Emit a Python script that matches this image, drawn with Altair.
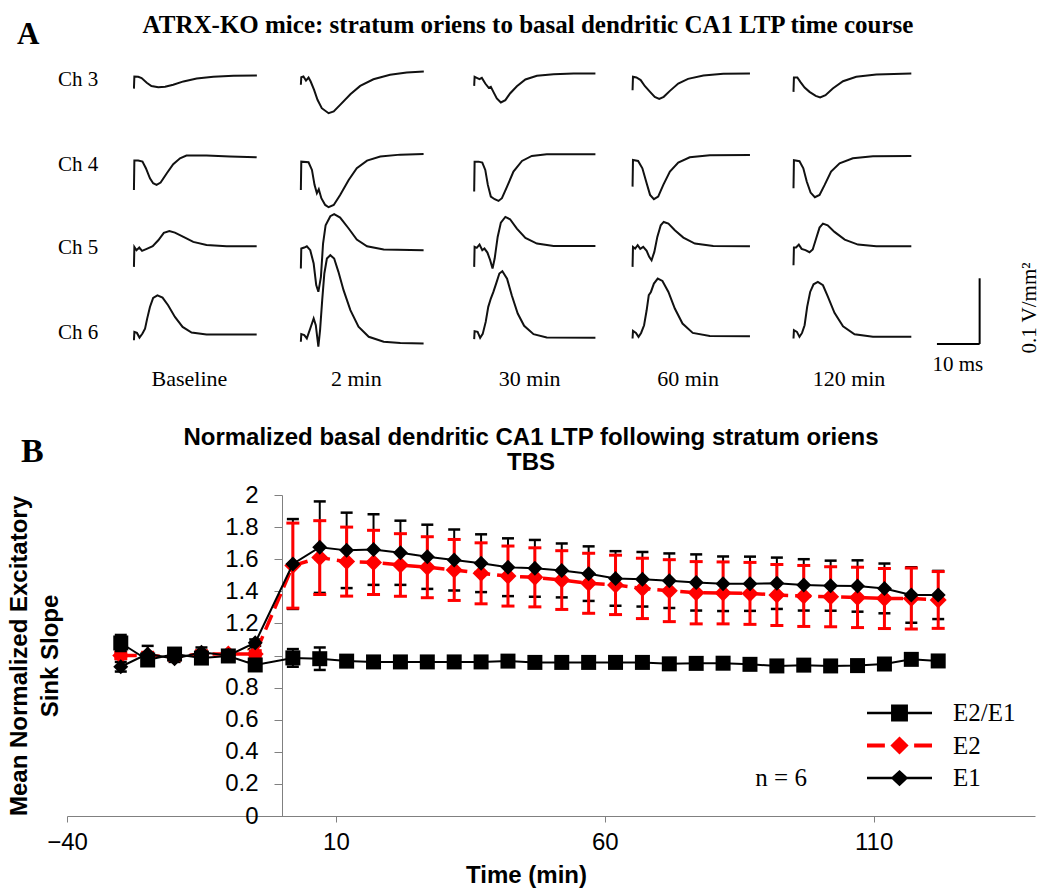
import altair as alt
import pandas as pd

SERIF = "Liberation Serif"
SANS = "Liberation Sans"

# ======================= Panel A: field-potential traces =======================
CHANNELS = ["Ch 3", "Ch 4", "Ch 5", "Ch 6"]
TIMEPOINTS = ["Baseline", "2 min", "30 min", "60 min", "120 min"]
TITLE_A = "ATRX-KO mice: stratum oriens to basal dendritic CA1 LTP time course"

# each trace: (time in ms, amplitude in mV/mm^2 relative to its resting level)
CH3_BASELINE = [(0, -20), (0.1, -1.5), (1.0, -2), (1.8, -4), (3.0, -11), (4.1, -16), (5.7, -18), (7.3, -17),
                (9.2, -14), (11.6, -9), (14.7, -4.5), (18.6, -2), (23.3, -0.5), (28.8, 0)]
CH3_2MIN = [(0, -20), (0.1, -8.6), (0.6, -7.6), (1.2, -13.7), (1.8, -9.1), (2.3, -15.2), (3.1, -27.9), (3.9, -43),
            (4.9, -55.8), (6.5, -63.4), (7.7, -60.8), (9.2, -50.7), (11.6, -34.5), (13.9, -21.8), (17.0, -11.7),
            (20.9, -5), (24.8, -1.5), (28.8, 0)]
CH3_30MIN = [(0, -18.8), (0.1, -5), (0.6, -6.6), (1.25, -8.6), (1.8, -6.6), (2.6, -15.2), (3.4, -21.8), (3.9, -20.3),
             (4.5, -27.9), (5.3, -38), (6.25, -44), (7.3, -40.6), (8.4, -30.4), (10.0, -19.3), (12.0, -9.1),
             (14.7, -3.5), (18.6, -1), (23.3, 0), (28.4, 0)]
CH3_60MIN = [(0, -25.4), (0.1, -5), (0.9, -6), (1.9, -10), (2.9, -19.3), (4.1, -27.9), (5.2, -35.5), (6.25, -38.5),
             (7.3, -35.5), (8.75, -26.4), (10.7, -15.2), (13.0, -8.1), (16.6, -3), (21.25, -0.5), (27.5, 0)]
CH3_120MIN = [(0, -27.9), (0.1, -6), (0.9, -6), (1.6, -12.7), (2.6, -21.3), (3.75, -27.9), (5.2, -34), (6.25, -36.5),
              (7.5, -33), (9.2, -22.8), (11.6, -11.7), (14.7, -5), (19.4, -1.5), (27.6, 0)]

CH4_BASELINE = [(0, -50.7), (0.1, -6), (1.0, -6), (2.0, -7.6), (2.8, -17.7), (3.75, -33), (4.5, -40.6), (5.3, -43),
                (6.25, -39.5), (7.7, -25.4), (9.2, -11.7), (10.8, -2.5), (12.3, 1.5), (17.0, 1.5), (22.5, 0),
                (28.75, -1)]
CH4_2MIN = [(0, -54.8), (0.1, -11.7), (1.8, -12.7), (2.6, -24.3), (3.2, -47), (3.75, -59.8), (4.2, -53.7),
            (4.8, -67.4), (5.7, -77.6), (6.5, -81.1), (7.7, -77.6), (9.2, -62.4), (11.2, -39.5), (13.1, -21.8),
            (15.5, -10.1), (18.6, -4), (23.3, -1), (28.75, 0)]
CH4_30MIN = [(0, -56.8), (0.1, -11.2), (1.0, -11.2), (1.9, -12.7), (2.6, -23.8), (3.2, -46.6), (3.9, -64.4),
             (4.8, -68.4), (5.7, -71), (6.5, -66.9), (7.7, -49.2), (9.2, -26.4), (11.2, -10.1), (13.5, -2.5),
             (17.0, 0), (28.4, 0)]
CH4_60MIN = [(0, -48.2), (0.1, -7.6), (1.3, -9.1), (2.3, -20.3), (3.3, -43), (4.1, -60.8), (5.0, -67.4), (6.0, -63.4),
             (7.2, -45.6), (8.75, -25.4), (10.7, -11.7), (13.4, -3.5), (18.1, -0.5), (27.5, 0)]
CH4_120MIN = [(0, -49.2), (0.1, -6.6), (1.4, -8.1), (2.3, -18.8), (3.1, -39), (4.0, -55.8), (5.0, -62.9),
              (6.1, -59.3), (7.3, -44.1), (8.8, -23.8), (10.8, -11.2), (13.9, -3.5), (18.6, -0.5), (27.6, 0)]

CH5_BASELINE = [(0, -31.4), (0.1, -1), (0.6, -6), (1.25, -2), (1.9, -7.1), (3.0, -4), (4.4, 0), (5.7, 9.1),
                (7.0, 20.3), (8.3, 23.3), (9.6, 20.8), (11.6, 14.2), (13.9, 6.6), (17.0, 2), (21.7, 0), (28.75, 0)]
CH5_2MIN = [(0, -27.9), (0.1, 2.5), (0.8, 4), (1.4, 6), (2.2, 0), (3.0, -20.3), (3.6, -53.2), (4.1, -63.4),
            (4.7, -40.6), (5.2, 10.1), (5.8, 38), (6.9, 51.7), (7.8, 54.8), (9.2, 49.7), (11.2, 33), (13.1, 16.2),
            (15.5, 6), (19.4, 1), (28.75, 0)]
CH5_30MIN = [(0, -31.9), (0.1, -1.5), (0.6, -3), (1.25, 2), (1.9, -6.6), (2.4, -4), (3.1, -10.1), (3.75, -21.8),
             (4.3, -34.5), (4.8, -19.3), (5.5, 13.7), (6.25, 35.5), (7.3, 44.1), (8.4, 40.6), (10.0, 26.4),
             (12.0, 12.2), (14.7, 3.5), (18.6, 0), (28.4, 0)]
CH5_60MIN = [(0, -31.4), (0.1, -1), (0.6, -3.5), (1.2, 1.5), (1.8, -4), (2.5, -1), (3.3, -7.1), (3.9, -16.2),
             (4.45, -21.3), (5.1, -8.6), (5.8, 14.2), (6.6, 31.9), (7.3, 37), (8.4, 34.5), (9.9, 24.3), (11.9, 13.2),
             (14.6, 4), (18.9, 0.5), (27.5, 0)]
CH5_120MIN = [(0, -28.9), (0.1, -2), (0.6, -2), (1.25, 2.5), (1.9, -4), (2.8, -6), (3.75, -9.1), (4.5, -5),
              (5.3, 11.7), (6.1, 28.4), (6.9, 34.5), (8.0, 31.9), (9.6, 21.8), (12.0, 10.1), (15.1, 2.5), (19.4, 0),
              (27.6, 0)]

CH6_BASELINE = [(0, -8.6), (0.1, 4), (0.7, 2.5), (1.3, -4.6), (2.0, 1.5), (2.6, 9.1), (3.1, 24.3), (3.75, 42.1),
                (4.5, 55.8), (5.5, 59.8), (6.7, 56.3), (8.0, 44.6), (9.6, 26.9), (11.4, 11.7), (13.5, 3), (17.0, 0),
                (28.75, 0)]
CH6_2MIN = [(0, 2.5), (0.1, 14.2), (0.8, 12.7), (1.4, 7.6), (2.2, 22.8), (3.0, 38), (3.5, 27.9), (4.1, -5),
            (4.5, 20.3), (5.0, 65.9), (5.5, 106.5), (6.1, 129.3), (6.9, 134.4), (7.8, 129.3), (8.8, 109),
            (10.0, 81.1), (11.6, 50.7), (13.5, 25.4), (15.9, 10.1), (19.4, 2.5), (23.3, 0.5), (28.75, 0)]
CH6_30MIN = [(0, -2), (0.1, 10.1), (0.8, 9.1), (1.4, 0), (2.0, 6), (2.7, 24.3), (3.3, 47.2), (3.9, 59.8), (4.5, 70),
             (5.2, 83.7), (5.9, 97.9), (6.6, 101.4), (7.7, 90.2), (8.8, 64.9), (10.2, 37), (11.7, 18.3), (13.9, 5.6),
             (17.0, 0.5), (28.4, 0)]
CH6_60MIN = [(0, -3.5), (0.1, 8.1), (0.8, 5), (1.4, -1), (2.0, 5), (2.7, 16.7), (3.3, 39.5), (3.8, 62.4),
             (4.3, 67.4), (5.0, 80.1), (5.9, 87.7), (7.0, 84.2), (8.4, 67.4), (9.9, 42.1), (11.7, 19.3), (14.1, 5),
             (18.1, 0.5), (27.5, 0)]
CH6_120MIN = [(0, -2.5), (0.1, 10.1), (0.8, 7.6), (1.4, 0), (2.0, 6), (2.6, 17.7), (3.2, 45.6), (3.9, 68.4),
              (4.7, 80.1), (5.7, 83.7), (6.9, 78.6), (8.0, 61.9), (9.6, 36.5), (11.6, 16.2), (14.3, 4), (18.6, 0),
              (27.6, 0)]

TRACES = {
    "Ch 3": [CH3_BASELINE, CH3_2MIN, CH3_30MIN, CH3_60MIN, CH3_120MIN],
    "Ch 4": [CH4_BASELINE, CH4_2MIN, CH4_30MIN, CH4_60MIN, CH4_120MIN],
    "Ch 5": [CH5_BASELINE, CH5_2MIN, CH5_30MIN, CH5_60MIN, CH5_120MIN],
    "Ch 6": [CH6_BASELINE, CH6_2MIN, CH6_30MIN, CH6_60MIN, CH6_120MIN],
}
# resting-level offsets of individual traces (mV/mm^2)
TRACE_SHIFT = {
    "Ch 3": [-3, 3, 0, 0, 0],
    "Ch 4": [-2.5, 1.5, 1, 0, -1.5],
    "Ch 5": [0, -6, 0.5, 0, 0],
    "Ch 6": [2.5, -11, -2.5, 0, -1],
}
SCALE_MS = 10      # horizontal scale bar, ms
SCALE_AMP = 100    # vertical scale bar, mV/mm^2 (0.1 V/mm^2)

# layout of the trace grid (ms horizontally, mV/mm^2 vertically)
COL_START = [29.5, 68.6, 109.2, 146.3, 184.0]
ROW_LEVEL = [488, 364, 225, 88]
CH_LABEL_Y = [478.2, 348.7, 222.4, 92.9]

rows = []
for ri, ch in enumerate(CHANNELS):
    for ci, tp in enumerate(TIMEPOINTS):
        for i, (t, v) in enumerate(TRACES[ch][ci]):
            rows.append({"trace": ch + "|" + tp, "i": i,
                         "X": COL_START[ci] + t,
                         "Y": ROW_LEVEL[ri] + TRACE_SHIFT[ch][ci] + v})
trace_df = pd.DataFrame(rows)

# panel A shares the drawing area with panel B but has its own scales
xa = alt.X("X:Q", scale=alt.Scale(domain=[13.82, 240.57], nice=False, zero=False), axis=None)
ya = alt.Y("Y:Q", scale=alt.Scale(domain=[-642.6, -153.8], nice=False, zero=False), axis=None)
xa2 = alt.X2("X2:Q")
ya2 = alt.Y2("Y2:Q")

traces = alt.Chart(trace_df).mark_line(color="#111111", strokeWidth=2).encode(
    x=xa, y=ya, detail="trace:N", order="i:Q")

ch_labels = alt.Chart(pd.DataFrame({"X": [11.7] * 4, "Y": CH_LABEL_Y, "label": CHANNELS})).mark_text(
    font=SERIF, fontSize=21, align="left", baseline="middle", color="black").encode(x=xa, y=ya, text="label:N")

col_labels = alt.Chart(pd.DataFrame({"X": [c + 13 for c in COL_START], "Y": [22.9] * 5,
                                     "label": TIMEPOINTS})).mark_text(
    font=SERIF, fontSize=22, align="center", baseline="middle", color="black").encode(x=xa, y=ya, text="label:N")

sb_x0, sb_y0 = 217.6, 76.2
scalebar = alt.Chart(pd.DataFrame({
    "X": [sb_x0, sb_x0 + SCALE_MS], "X2": [sb_x0 + SCALE_MS, sb_x0 + SCALE_MS],
    "Y": [sb_y0, sb_y0], "Y2": [sb_y0, sb_y0 + SCALE_AMP]})).mark_rule(color="black", strokeWidth=2).encode(
    x=xa, x2=xa2, y=ya, y2=ya2)

sb_ms = alt.Chart(pd.DataFrame({"X": [222.5], "Y": [44.2], "label": ["10 ms"]})).mark_text(
    font=SERIF, fontSize=21, align="center", baseline="middle", color="black").encode(x=xa, y=ya, text="label:N")
sb_amp = alt.Chart(pd.DataFrame({"X": [239.4], "Y": [131], "label": ["0.1 V/mm\u00b2"]})).mark_text(
    font=SERIF, fontSize=21, align="center", baseline="middle", angle=270, color="black").encode(
    x=xa, y=ya, text="label:N")

title_a = alt.Chart(pd.DataFrame({"X": [121.8], "Y": [549.7], "label": [TITLE_A]})).mark_text(
    font=SERIF, fontSize=25, fontWeight="bold", align="center", baseline="alphabetic", color="black").encode(
    x=xa, y=ya, text="label:N")
letter_a = alt.Chart(pd.DataFrame({"X": [2.1], "Y": [533], "label": ["A"]})).mark_text(
    font=SERIF, fontSize=31, fontWeight="bold", align="left", baseline="alphabetic", color="black").encode(
    x=xa, y=ya, text="label:N")

panel_a = alt.layer(traces, ch_labels, col_labels, scalebar, sb_ms, sb_amp, title_a, letter_a)

# ======================= Panel B: time course =======================
TIME_MIN = [-30, -25, -20, -15, -10, -5, 2, 7, 12, 17, 22, 27, 32, 37, 42, 47, 52, 57, 62, 67, 72, 77, 82, 87,
            92, 97, 102, 107, 112, 117, 122]
E1_MEAN = [0.93, 1.01, 0.98, 1.02, 1.00, 1.08, 1.57, 1.675, 1.655, 1.66, 1.64, 1.615, 1.595, 1.575, 1.55, 1.543,
           1.53, 1.51, 1.48, 1.475, 1.466, 1.455, 1.447, 1.447, 1.45, 1.44, 1.435, 1.433, 1.418, 1.377, 1.377]
E1_SEM = [0.03, 0.05, 0.02, 0.03, 0.02, 0.02, 0.28, 0.285, 0.235, 0.22, 0.20, 0.20, 0.19, 0.18, 0.18, 0.177,
          0.168, 0.17, 0.17, 0.17, 0.17, 0.175, 0.17, 0.169, 0.16, 0.16, 0.156, 0.16, 0.155, 0.173, 0.15]
E2_MEAN = [1.00, 1.00, 0.99, 1.01, 1.01, 1.01, 1.56, 1.61, 1.585, 1.58, 1.564, 1.55, 1.533, 1.512, 1.495, 1.487,
           1.47, 1.45, 1.44, 1.418, 1.404, 1.391, 1.39, 1.387, 1.377, 1.371, 1.366, 1.362, 1.355, 1.355, 1.346]
E2_SEM = [0.02, 0.02, 0.02, 0.02, 0.02, 0.02, 0.265, 0.23, 0.215, 0.2, 0.195, 0.19, 0.19, 0.19, 0.187, 0.184,
          0.183, 0.187, 0.185, 0.188, 0.193, 0.194, 0.193, 0.193, 0.19, 0.19, 0.187, 0.188, 0.187, 0.19, 0.177]
RATIO_MEAN = [1.078, 0.972, 1.009, 0.984, 0.997, 0.941, 0.985, 0.98, 0.965, 0.96, 0.96, 0.96, 0.96, 0.96, 0.965,
              0.957, 0.957, 0.957, 0.957, 0.957, 0.948, 0.951, 0.952, 0.945, 0.935, 0.94, 0.935, 0.937, 0.947,
              0.976, 0.966]
RATIO_SEM = [0.05, 0.03, 0.02, 0.02, 0.02, 0.02, 0.055, 0.07, 0.03, 0.02, 0.015, 0.015, 0.015, 0.015, 0.015,
             0.015, 0.015, 0.015, 0.015, 0.015, 0.015, 0.015, 0.015, 0.015, 0.015, 0.015, 0.015, 0.015, 0.015,
             0.015, 0.015]
SERIES = ["E2/E1", "E2", "E1"]
X_TICKS = [-40, 10, 60, 110]
Y_TICKS = [0, 0.2, 0.4, 0.6, 0.8, 1.0, 1.2, 1.4, 1.6, 1.8, 2.0]
N_LABEL = "n = 6"
TITLE_B = ["Normalized basal dendritic CA1 LTP following stratum oriens", "TBS"]

b_df = pd.DataFrame({
    "t": TIME_MIN * 3,
    "series": ["E2/E1"] * len(TIME_MIN) + ["E2"] * len(TIME_MIN) + ["E1"] * len(TIME_MIN),
    "mean": RATIO_MEAN + E2_MEAN + E1_MEAN,
    "err": RATIO_SEM + E2_SEM + E1_SEM,
})
b_df["lo"] = b_df["mean"] - b_df["err"]
b_df["hi"] = b_df["mean"] + b_df["err"]

AX_COLOR = "#808080"
ax_x = alt.Axis(orient="bottom", values=X_TICKS, title="Time (min)", titleFont=SANS, titleFontSize=24,
                titleFontWeight="bold", titleColor="black", titleX=459, titleY=59, titleBaseline="middle",
                labelFont=SANS, labelFontSize=24, labelColor="black", labelPadding=8, tickSize=6,
                tickColor=AX_COLOR, domainColor=AX_COLOR, grid=False, labelFlush=False, labelOverlap=False)
ax_y = alt.Axis(orient="left", values=Y_TICKS, format=".1~f", offset=-215,
                title=["Mean Normalized Excitatory", "Sink Slope"], titleFont=SANS, titleFontSize=24,
                titleFontWeight="bold", titleColor="black", titleLineHeight=31, titleX=-251, titleY=160.5,
                titleAngle=270, titleAlign="center", titleBaseline="bottom", labelFont=SANS, labelFontSize=24,
                labelColor="black", labelPadding=16, tickSize=8, tickColor=AX_COLOR, domainColor=AX_COLOR,
                grid=False, labelOverlap=False)
sx = alt.Scale(domain=[-40, 140], nice=False, zero=False)
sy = alt.Scale(domain=[0, 2], nice=False)
XB = alt.X("t:Q", scale=sx, axis=ax_x)
YB = alt.Y("mean:Q", scale=sy, axis=ax_y)

base = alt.Chart(b_df)


def errbars(name, color, width, cap_w, cap_t):
    src = base.transform_filter(alt.datum.series == name)
    rule = src.mark_rule(color=color, strokeWidth=width).encode(
        x=XB, y=alt.Y("lo:Q", scale=sy, axis=ax_y), y2="hi:Q")
    caps = src.transform_fold(["lo", "hi"], as_=["end", "val"]).mark_tick(
        orient="horizontal", color=color, size=cap_w, thickness=cap_t, opacity=1).encode(
        x=XB, y=alt.Y("val:Q", scale=sy, axis=ax_y))
    return [rule, caps]


def series_line(name, color, width, dash=None):
    kw = dict(color=color, strokeWidth=width)
    if dash:
        kw["strokeDash"] = dash
    return base.transform_filter(alt.datum.series == name).mark_line(**kw).encode(x=XB, y=YB)


def series_points(name, color, shape, size):
    return base.transform_filter(alt.datum.series == name).mark_point(
        shape=shape, filled=True, size=size, color=color, opacity=1, strokeWidth=0).encode(x=XB, y=YB)


SQ = "M-1,-0.035H1V0.035H-1Z M-0.26,-0.26H0.26V0.26H-0.26Z"
DIA_RED = "M-1,-0.06H-0.45V0.06H-1Z M0.45,-0.06H1V0.06H0.45Z M0,-0.28L0.28,0L0,0.28L-0.28,0Z"
DIA_BLK = "M-1,-0.035H1V0.035H-1Z M0,-0.25L0.27,0L0,0.25L-0.27,0Z"
leg = alt.Legend(orient="none", legendX=800, legendY=204, title=None, labelFont=SERIF, labelFontSize=25,
                 labelColor="black", symbolSize=4225, symbolStrokeWidth=0, clipHeight=28, rowPadding=4.5,
                 labelOffset=21, padding=0, offset=0)
legend_layer = base.transform_filter("false").mark_point(filled=True, opacity=1).encode(
    x=XB, y=YB,
    color=alt.Color("series:N", scale=alt.Scale(domain=SERIES, range=["black", "red", "black"]), legend=leg),
    shape=alt.Shape("series:N", scale=alt.Scale(domain=SERIES, range=[SQ, DIA_RED, DIA_BLK]), legend=leg))

n_text = alt.Chart(pd.DataFrame({"t": [92.8], "mean": [0.237], "label": [N_LABEL]})).mark_text(
    font=SERIF, fontSize=25, align="center", baseline="middle", color="black").encode(x=XB, y=YB, text="label:N")
letter_b = alt.Chart(pd.DataFrame({"label": ["B"]})).mark_text(
    font=SERIF, fontSize=34, fontWeight="bold", align="left", baseline="alphabetic", color="black").encode(
    x=alt.value(-46), y=alt.value(-33), text="label:N")
title_b1 = alt.Chart(pd.DataFrame({"label": [TITLE_B[0]]})).mark_text(
    font=SANS, fontSize=24, fontWeight="bold", align="center", baseline="alphabetic", color="black").encode(
    x=alt.value(464), y=alt.value(-50), text="label:N")
title_b2 = alt.Chart(pd.DataFrame({"label": [TITLE_B[1]]})).mark_text(
    font=SANS, fontSize=24, fontWeight="bold", align="center", baseline="alphabetic", color="black").encode(
    x=alt.value(464), y=alt.value(-25), text="label:N")

layers_b = (errbars("E1", "black", 2, 12, 2.5)
            + errbars("E2", "red", 3, 13, 3)
            + [series_line("E2", "red", 3.5, [16, 7]), series_points("E2", "red", "diamond", 289),
               series_line("E1", "black", 2), series_points("E1", "black", "diamond", 225)]
            + errbars("E2/E1", "black", 2, 12, 2.5)
            + [series_line("E2/E1", "black", 2), series_points("E2/E1", "black", "square", 225),
               legend_layer, n_text, letter_b, title_b1, title_b2])
panel_b = alt.layer(*layers_b)

chart = alt.layer(panel_b, panel_a).resolve_scale(x="independent", y="independent").properties(
    width=968, height=321,
    autosize=alt.AutoSizeParams(type="none"),
    padding={"left": 67, "top": 495, "right": 13, "bottom": 72},
    background="white",
).configure_view(strokeWidth=0)

chart.save("out.html", embed_options={"renderer": "svg", "actions": False})
